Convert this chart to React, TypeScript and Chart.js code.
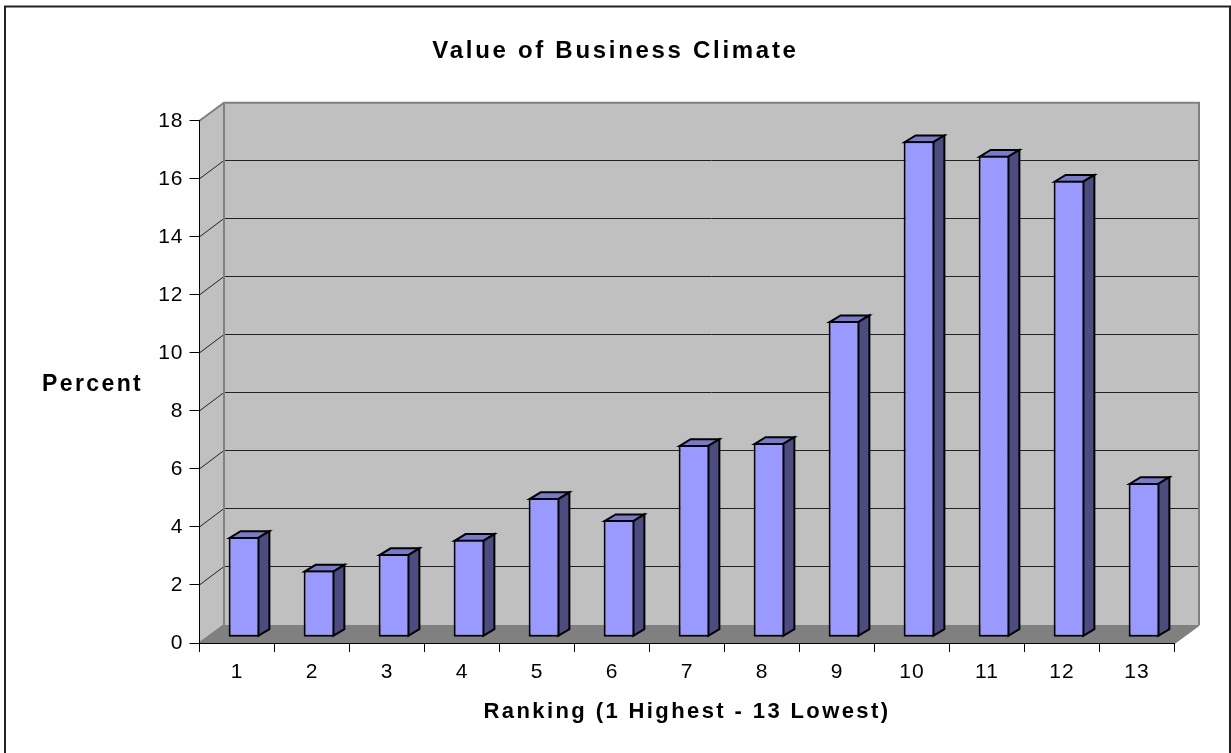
import React, { useEffect, useRef } from "react";
import { Chart, registerables } from "chart.js";

Chart.register(...registerables);

const categories = ["1", "2", "3", "4", "5", "6", "7", "8", "9", "10", "11", "12", "13"];
const percentValues = [3.46, 2.3, 2.87, 3.36, 4.8, 4.04, 6.63, 6.7, 10.9, 17.1, 16.6, 15.74, 5.32];
const chartTitle = "Value of Business Climate";
const xTitle = "Ranking (1 Highest - 13 Lowest)";
const yTitle = "Percent";

const FONT = "'Liberation Sans', Arial, sans-serif";
const DEPTH_X = 24.5;
const DEPTH_Y = -18;
const BAR_SHIFT_X = 7;
const BAR_SHIFT_Y = -5.7;
const SIDE_X = 11;
const SIDE_Y = -6.7;
const TICK_SPACING = "1px";
const TITLE_SPACING = "2.7px";
const XTITLE_SPACING = "2.4px";
const YTITLE_SPACING = "2.4px";

function poly(ctx: CanvasRenderingContext2D, pts: number[][], fill?: string, stroke?: string, lw = 1) {
  ctx.beginPath();
  pts.forEach((p, i) => (i ? ctx.lineTo(p[0], p[1]) : ctx.moveTo(p[0], p[1])));
  ctx.closePath();
  if (fill) {
    ctx.fillStyle = fill;
    ctx.fill();
  }
  if (stroke) {
    ctx.strokeStyle = stroke;
    ctx.lineWidth = lw;
    ctx.lineJoin = "miter";
    ctx.stroke();
  }
}

function withSpacing(obj: any, method: string, spacing: string, ctx: any) {
  if (!obj || obj["__spaced_" + method]) return;
  const orig = obj[method];
  obj["__spaced_" + method] = true;
  obj[method] = function (...args: any[]) {
    const prev = ctx.letterSpacing;
    ctx.letterSpacing = spacing;
    orig.apply(this, args);
    ctx.letterSpacing = prev;
  };
}

const box3d = {
  id: "box3d",
  beforeDraw(chart: any) {
    const ctx: CanvasRenderingContext2D = chart.ctx;
    const { left, right, top, bottom } = chart.chartArea;
    (ctx as any).letterSpacing = TICK_SPACING;
    withSpacing(chart.titleBlock, "draw", TITLE_SPACING, ctx);
    withSpacing(chart.scales.x, "drawTitle", XTITLE_SPACING, ctx);
    ctx.save();
    // outer frame, running off the bottom of the page
    ctx.strokeStyle = "#222";
    ctx.lineWidth = 2;
    ctx.strokeRect(5, 6.5, 1225, 800);
    // left wall
    poly(ctx, [[left, top], [left + DEPTH_X, top + DEPTH_Y], [left + DEPTH_X, bottom + DEPTH_Y], [left, bottom]], "#c0c0c0");
    // back wall
    poly(ctx, [[left + DEPTH_X, top + DEPTH_Y], [right + DEPTH_X, top + DEPTH_Y], [right + DEPTH_X, bottom + DEPTH_Y], [left + DEPTH_X, bottom + DEPTH_Y]], "#c0c0c0");
    // floor
    poly(ctx, [[left, bottom], [right, bottom], [right + DEPTH_X, bottom + DEPTH_Y], [left + DEPTH_X, bottom + DEPTH_Y]], "#808080");
    // gridlines from the y scale
    const yScale = chart.scales.y;
    yScale.ticks.forEach((t: any) => {
      if (t.value === 0 || t.value === 18) return;
      const y = yScale.getPixelForValue(t.value);
      const backY = Math.round(y + DEPTH_Y - 0.5) + 0.5;
      ctx.beginPath();
      ctx.moveTo(left, y);
      ctx.lineTo(left + DEPTH_X, backY);
      ctx.lineTo(right + DEPTH_X, backY);
      ctx.strokeStyle = "#222";
      ctx.lineWidth = 1;
      ctx.stroke();
    });
    // wall outlines
    ctx.beginPath();
    ctx.moveTo(left, top);
    ctx.lineTo(left + DEPTH_X, top + DEPTH_Y);
    ctx.lineTo(right + DEPTH_X, top + DEPTH_Y);
    ctx.lineTo(right + DEPTH_X, bottom + DEPTH_Y);
    ctx.moveTo(left + DEPTH_X, top + DEPTH_Y);
    ctx.lineTo(left + DEPTH_X, bottom + DEPTH_Y);
    ctx.moveTo(left, bottom);
    ctx.lineTo(left + DEPTH_X, bottom + DEPTH_Y);
    ctx.moveTo(right, bottom);
    ctx.lineTo(right + DEPTH_X, bottom + DEPTH_Y);
    ctx.strokeStyle = "#808080";
    ctx.lineWidth = 2;
    ctx.stroke();
    ctx.restore();
  },
  beforeDatasetDraw(chart: any, args: any) {
    const ctx: CanvasRenderingContext2D = chart.ctx;
    ctx.save();
    ctx.translate(BAR_SHIFT_X, BAR_SHIFT_Y);
    args.meta.data.forEach((bar: any) => {
      const { x, y, base, width } = bar.getProps(["x", "y", "base", "width"], true);
      const l = x - width / 2 + 1;
      const r = x + width / 2 - 1;
      const t = y + 1;
      const b = base - 1;
      poly(ctx, [[l, t], [r, t], [r + SIDE_X, t + SIDE_Y], [l + SIDE_X, t + SIDE_Y]], "#7a7acc", "#000", 2);
      poly(ctx, [[r, t], [r + SIDE_X, t + SIDE_Y], [r + SIDE_X, b + SIDE_Y], [r, b]], "#4c4c80", "#000", 2);
    });
  },
  afterDatasetDraw(chart: any) {
    chart.ctx.restore();
  },
  afterDraw(chart: any) {
    const ctx: any = chart.ctx;
    ctx.save();
    ctx.letterSpacing = YTITLE_SPACING;
    ctx.font = `bold 23px ${FONT}`;
    ctx.fillStyle = "#000";
    ctx.textAlign = "left";
    ctx.textBaseline = "middle";
    ctx.fillText(yTitle, 42, 385);
    ctx.restore();
  },
};

export default function App() {
  const ref = useRef<HTMLCanvasElement | null>(null);
  useEffect(() => {
    const chart = new Chart(ref.current as HTMLCanvasElement, {
      type: "bar",
      data: {
        labels: categories,
        datasets: [
          {
            data: percentValues,
            backgroundColor: "#9999ff",
            borderColor: "#000",
            borderWidth: 2,
            borderSkipped: false,
            barPercentage: 0.41,
            categoryPercentage: 1,
            clip: false as any,
          },
        ],
      },
      options: {
        animation: false,
        responsive: false,
        layout: { padding: { left: 56.5, right: 56.5, top: 0, bottom: 0 } },
        plugins: {
          legend: { display: false },
          tooltip: { enabled: false },
          title: {
            display: true,
            text: chartTitle,
            color: "#000",
            font: { family: FONT, size: 24, weight: "bold" },
            padding: { top: 37, bottom: 55 },
          },
        },
        scales: {
          x: {
            afterFit: (s: any) => {
              s.height = 110;
            },
            grid: { drawOnChartArea: false, drawTicks: true, tickLength: 9, tickColor: "#000", offset: true },
            border: { display: true, color: "#000", width: 1 },
            ticks: { color: "#000", font: { family: FONT, size: 21 }, padding: 8, maxRotation: 0 },
            title: {
              display: true,
              text: xTitle,
              color: "#000",
              font: { family: FONT, size: 22, weight: "bold" },
              padding: { top: 0, bottom: 27.8 },
            },
          },
          y: {
            min: 0,
            max: 18,
            afterFit: (s: any) => {
              s.width = 143;
            },
            grid: { drawOnChartArea: false, drawTicks: true, tickLength: 10, tickColor: "#000" },
            border: { display: true, color: "#000", width: 1 },
            ticks: { color: "#000", stepSize: 2, font: { family: FONT, size: 21 }, padding: 6 },
          },
        },
      },
      plugins: [box3d],
    } as any);
    return () => chart.destroy();
  }, []);
  return (
    <canvas
      ref={ref}
      width={1231}
      height={753}
      style={{ position: "absolute", left: 0, top: 0, display: "block" }}
    />
  );
}
